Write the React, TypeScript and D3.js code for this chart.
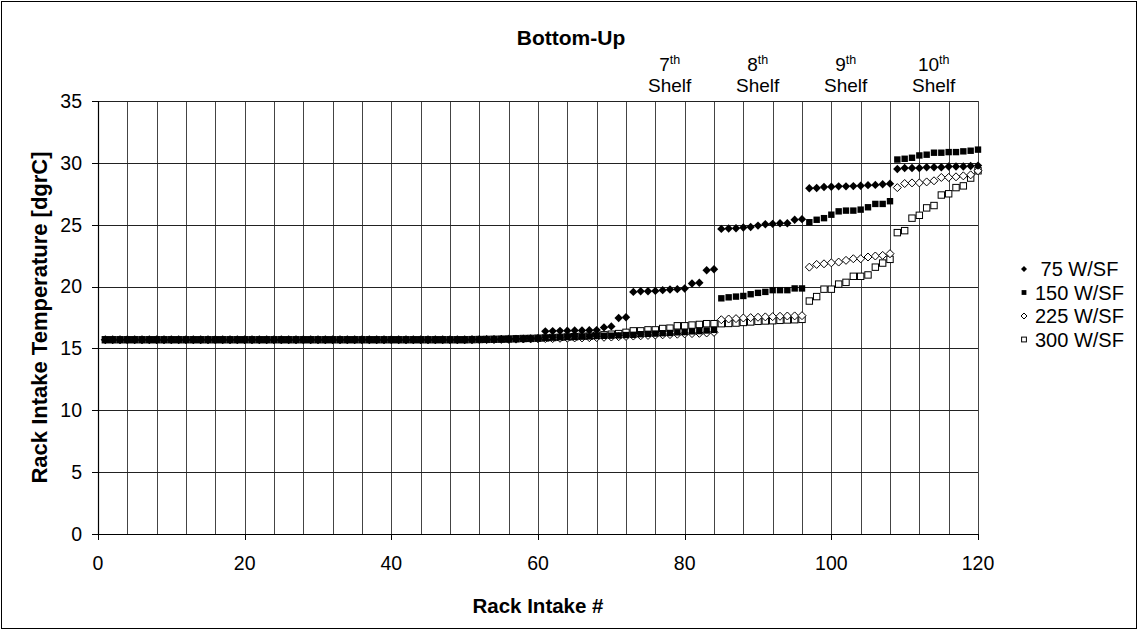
import React from "react";
import * as d3 from "d3";

const W = 1138;
const H = 630;

const xTicks = [0, 20, 40, 60, 80, 100, 120];
const yTicks = [0, 5, 10, 15, 20, 25, 30, 35];
const xGrid = [0, 4, 8, 12, 16, 20, 24, 28, 32, 36, 40, 44, 48, 52, 56, 60, 64, 68, 72, 76, 80, 84, 88, 92, 96, 100, 104, 108, 112, 116, 120];

const seriesNames = ["75 W/SF", "150 W/SF", "225 W/SF", "300 W/SF"];
const shelfOrdinals = ["7", "8", "9", "10"];
const shelfCenters = [78.5, 90.5, 102.5, 114.5];

const s75 = [
  15.7, 15.7, 15.7, 15.7, 15.7, 15.7, 15.7, 15.7, 15.7, 15.7, 15.7, 15.7,
  15.7, 15.7, 15.7, 15.7, 15.7, 15.7, 15.7, 15.7, 15.7, 15.7, 15.7, 15.7,
  15.7, 15.7, 15.7, 15.7, 15.7, 15.7, 15.7, 15.7, 15.7, 15.7, 15.7, 15.7,
  15.7, 15.7, 15.7, 15.7, 15.7, 15.7, 15.7, 15.7, 15.7, 15.7, 15.7, 15.7,
  15.7, 15.7, 15.72, 15.72, 15.73, 15.73, 15.75, 15.75, 15.77, 15.78, 15.8, 15.82,
  16.38, 16.4, 16.42, 16.43, 16.45, 16.45, 16.47, 16.48, 16.7, 16.78, 17.46, 17.52,
  19.57, 19.62, 19.62, 19.65, 19.71, 19.76, 19.79, 19.84, 20.25, 20.31, 21.32, 21.4,
  24.66, 24.7, 24.71, 24.77, 24.82, 24.93, 25.04, 25.07, 25.12, 25.12, 25.4, 25.45,
  27.95, 27.97, 28.05, 28.07, 28.1, 28.1, 28.12, 28.15, 28.2, 28.22, 28.27, 28.32,
  29.5, 29.59, 29.59, 29.59, 29.64, 29.64, 29.64, 29.7, 29.7, 29.7, 29.75, 29.78,
];

const s150 = [
  15.7, 15.7, 15.7, 15.7, 15.7, 15.7, 15.7, 15.7, 15.7, 15.7, 15.7, 15.7,
  15.7, 15.7, 15.7, 15.7, 15.7, 15.7, 15.7, 15.7, 15.7, 15.7, 15.7, 15.7,
  15.7, 15.7, 15.7, 15.7, 15.7, 15.7, 15.7, 15.7, 15.7, 15.7, 15.7, 15.7,
  15.7, 15.7, 15.7, 15.7, 15.7, 15.7, 15.7, 15.7, 15.7, 15.7, 15.7, 15.7,
  15.7, 15.7, 15.72, 15.72, 15.73, 15.74, 15.75, 15.76, 15.77, 15.78, 15.8, 15.82,
  15.85, 15.87, 15.9, 15.92, 15.93, 15.95, 15.97, 16.0, 16.02, 16.03, 16.05, 16.08,
  16.1, 16.15, 16.18, 16.2, 16.23, 16.25, 16.3, 16.32, 16.38, 16.4, 16.45, 16.5,
  19.05, 19.13, 19.19, 19.24, 19.38, 19.49, 19.57, 19.71, 19.71, 19.71, 19.85, 19.85,
  25.2, 25.4, 25.53, 25.81, 26.08, 26.14, 26.14, 26.22, 26.41, 26.68, 26.68, 26.9,
  30.27, 30.33, 30.41, 30.6, 30.66, 30.82, 30.82, 30.87, 30.87, 30.93, 30.98, 31.07,
];

const s225 = [
  15.7, 15.7, 15.7, 15.7, 15.7, 15.7, 15.7, 15.7, 15.7, 15.7, 15.7, 15.7,
  15.7, 15.7, 15.7, 15.7, 15.7, 15.7, 15.7, 15.7, 15.7, 15.7, 15.7, 15.7,
  15.7, 15.7, 15.7, 15.7, 15.7, 15.7, 15.7, 15.7, 15.7, 15.7, 15.7, 15.7,
  15.7, 15.7, 15.7, 15.7, 15.7, 15.7, 15.7, 15.7, 15.7, 15.7, 15.7, 15.7,
  15.7, 15.7, 15.7, 15.71, 15.72, 15.72, 15.73, 15.74, 15.75, 15.76, 15.77, 15.78,
  15.8, 15.8, 15.82, 15.83, 15.85, 15.85, 15.87, 15.88, 15.9, 15.92, 15.95, 15.97,
  16.0, 16.02, 16.05, 16.08, 16.1, 16.12, 16.15, 16.18, 16.2, 16.22, 16.25, 16.3,
  17.32, 17.38, 17.41, 17.46, 17.49, 17.52, 17.55, 17.57, 17.6, 17.62, 17.63, 17.65,
  21.57, 21.79, 21.84, 21.92, 21.98, 22.12, 22.25, 22.25, 22.39, 22.47, 22.52, 22.66,
  28.0, 28.33, 28.38, 28.38, 28.46, 28.55, 28.82, 28.82, 28.87, 28.95, 29.03, 29.36,
];

const s300 = [
  15.7, 15.7, 15.7, 15.7, 15.7, 15.7, 15.7, 15.7, 15.7, 15.7, 15.7, 15.7,
  15.7, 15.7, 15.7, 15.7, 15.7, 15.7, 15.7, 15.7, 15.7, 15.7, 15.7, 15.7,
  15.7, 15.7, 15.7, 15.7, 15.7, 15.7, 15.7, 15.7, 15.7, 15.7, 15.7, 15.7,
  15.7, 15.7, 15.7, 15.7, 15.7, 15.7, 15.7, 15.7, 15.7, 15.7, 15.7, 15.7,
  15.7, 15.7, 15.71, 15.72, 15.73, 15.74, 15.75, 15.76, 15.78, 15.8, 15.81, 15.83,
  15.85, 15.88, 15.9, 15.93, 15.95, 15.98, 16.0, 16.05, 16.1, 16.15, 16.2, 16.3,
  16.42, 16.42, 16.5, 16.5, 16.61, 16.64, 16.83, 16.83, 16.89, 16.94, 17.0, 17.0,
  17.0, 17.02, 17.05, 17.1, 17.14, 17.19, 17.22, 17.24, 17.27, 17.3, 17.32, 17.35,
  18.83, 19.19, 19.79, 19.79, 20.2, 20.34, 20.83, 20.83, 20.94, 21.57, 21.9, 22.2,
  24.36, 24.52, 25.53, 25.76, 26.36, 26.55, 27.4, 27.5, 28.0, 28.14, 28.77, 29.36,
];

const FONT = "'Liberation Sans', Arial, sans-serif";

const plot = { left: 98, right: 978, top: 101, bottom: 534 };

type Kind = "diamondFilled" | "squareFilled" | "diamondOpen" | "squareOpen";
const kinds: Kind[] = ["diamondFilled", "squareFilled", "diamondOpen", "squareOpen"];

function Marker({ kind, cx, cy, s }: { kind: Kind; cx: number; cy: number; s: number }) {
  if (kind === "diamondFilled" || kind === "diamondOpen") {
    const h = s;
    const d = `M${cx},${cy - h}L${cx + h},${cy}L${cx},${cy + h}L${cx - h},${cy}Z`;
    return kind === "diamondFilled" ? (
      <path d={d} fill="#000" />
    ) : (
      <path d={d} fill="#fff" stroke="#000" strokeWidth={1} />
    );
  }
  const h = s * 0.8;
  return kind === "squareFilled" ? (
    <rect x={cx - h} y={cy - h} width={2 * h} height={2 * h} fill="#000" />
  ) : (
    <rect x={cx - h} y={cy - h} width={2 * h} height={2 * h} fill="#fff" stroke="#000" strokeWidth={1} />
  );
}

export default function App() {
  const x = d3.scaleLinear().domain([0, 120]).range([plot.left, plot.right]);
  const y = d3.scaleLinear().domain([0, 35]).range([plot.bottom, plot.top]);
  const series = [s75, s150, s225, s300];
  const legendY = [269, 292.5, 316, 339.5];

  return (
    <svg
      width={W}
      height={H}
      style={{ position: "absolute", left: 0, top: 0, display: "block", background: "#fff" }}
      fontFamily={FONT}
    >
      <rect x={0} y={0} width={W} height={H} fill="#fff" />
      <rect x={1.5} y={1.5} width={W - 3} height={H - 3} fill="none" stroke="#000" strokeWidth={1} />

      {/* gridlines */}
      {xGrid.map((g) => (
        <line key={"vx" + g} x1={Math.round(x(g)) + 0.5} x2={Math.round(x(g)) + 0.5} y1={plot.top} y2={plot.bottom} stroke="#444" strokeWidth={1} />
      ))}
      {yTicks.map((t) => (
        <line key={"hy" + t} x1={plot.left} x2={plot.right} y1={Math.round(y(t)) + 0.5} y2={Math.round(y(t)) + 0.5} stroke="#222" strokeWidth={1} />
      ))}

      {/* axes */}
      <line x1={plot.left + 0.5} x2={plot.left + 0.5} y1={plot.top} y2={plot.bottom + 0.5} stroke="#000" strokeWidth={1.2} />
      <line x1={plot.left} x2={plot.right} y1={plot.bottom + 0.5} y2={plot.bottom + 0.5} stroke="#000" strokeWidth={1.2} />
      {yTicks.map((t) => (
        <g key={"yt" + t}>
          <line x1={plot.left - 6} x2={plot.left} y1={Math.round(y(t)) + 0.5} y2={Math.round(y(t)) + 0.5} stroke="#000" />
          <text x={plot.left - 16} y={y(t)} dy="0.35em" textAnchor="end" fontSize={19.5}>
            {t}
          </text>
        </g>
      ))}
      {xTicks.map((t) => (
        <g key={"xt" + t}>
          <line x1={Math.round(x(t)) + 0.5} x2={Math.round(x(t)) + 0.5} y1={plot.bottom} y2={plot.bottom + 6} stroke="#000" />
          <text x={x(t)} y={plot.bottom + 36} textAnchor="middle" fontSize={19.5}>
            {t}
          </text>
        </g>
      ))}

      {/* data */}
      {[3, 2, 1, 0].map((si) => (
        <g key={"s" + si}>
          {series[si].map((v, i) => (
            <Marker key={i} kind={kinds[si]} cx={x(i + 1)} cy={y(v)} s={si === 0 ? 4.2 : 4} />
          ))}
        </g>
      ))}

      {/* titles */}
      <text x={571} y={45} textAnchor="middle" fontSize={21} fontWeight="bold">
        Bottom-Up
      </text>
      <text x={538} y={613} textAnchor="middle" fontSize={20.5} fontWeight="bold">
        Rack Intake #
      </text>
      <text transform={`translate(47,${(plot.top + plot.bottom) / 2}) rotate(-90)`} textAnchor="middle" fontSize={22} fontWeight="bold">
        Rack Intake Temperature [dgrC]
      </text>

      {/* shelf labels */}
      {shelfCenters.map((c, i) => (
        <g key={"sh" + i}>
          <text x={x(c) - 4} y={71} textAnchor="middle" fontSize={19}>
            {shelfOrdinals[i]}
            <tspan fontSize={12.5} dy={-7}>th</tspan>
          </text>
          <text x={x(c) - 4} y={92} textAnchor="middle" fontSize={19}>
            Shelf
          </text>
        </g>
      ))}

      {/* legend */}
      {seriesNames.map((n, i) => (
        <g key={"lg" + i}>
          <Marker kind={kinds[i]} cx={1024} cy={legendY[i]} s={3} />
          <text x={1035} y={legendY[i]} dy="0.36em" fontSize={20}>
            {i === 0 ? "\u00a075 W/SF" : n}
          </text>
        </g>
      ))}
    </svg>
  );
}
